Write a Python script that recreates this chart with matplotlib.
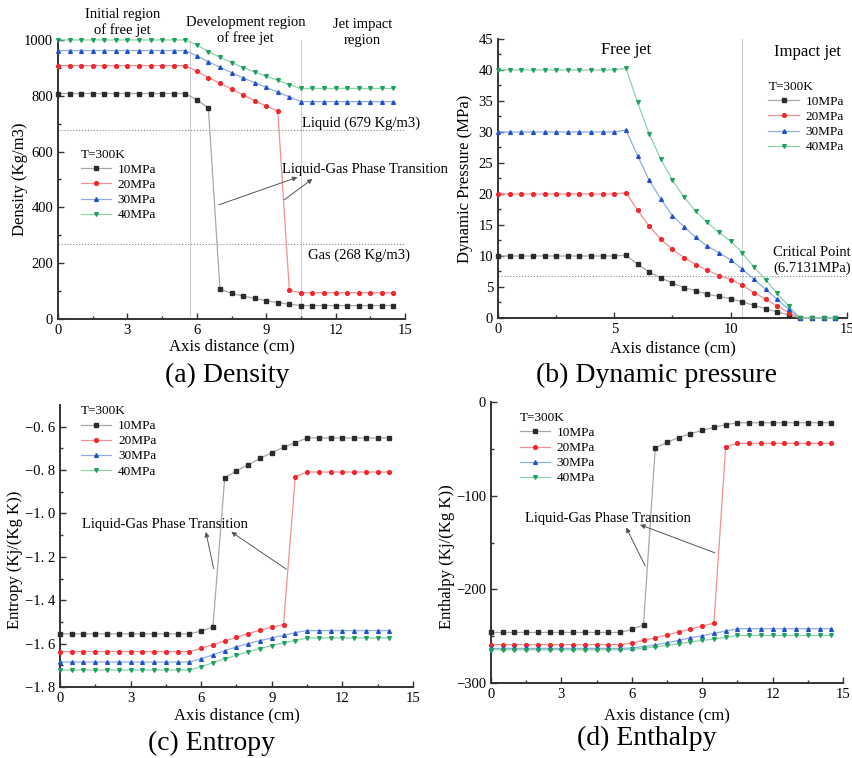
import matplotlib
matplotlib.use('Agg')
import matplotlib.pyplot as plt
import numpy as np

plt.rcParams['font.family'] = ['Liberation Serif', 'DejaVu Serif']
plt.rcParams['axes.unicode_minus'] = True

labels = ['10MPa', '20MPa', '30MPa', '40MPa']
dark = ['#2b2b2b', '#f0282d', '#2050c8', '#1fa060']
light = ['#a8a8a8', '#f39090', '#90ade3', '#8fd3ad']
marks = ['s', 'o', '^', 'v']

# axis distance (cm)
x_long = np.arange(0, 14.51, 0.5)   # density, pressure, enthalpy
x_short = np.arange(0, 14.01, 0.5)  # entropy

# (a) density (Kg/m3)
rho_10 = [808, 808, 808, 808, 808, 808, 808, 808, 808, 808, 808, 808,
          785, 757, 107, 92, 82, 74, 66, 58, 53,
          48, 48, 48, 48, 48, 48, 48, 48, 48]
rho_20 = [908, 908, 908, 908, 908, 908, 908, 908, 908, 908, 908, 908,
          888, 865, 845, 824, 803, 782, 763, 745, 103,
          94, 94, 94, 94, 94, 94, 94, 94, 94]
rho_30 = [962, 962, 962, 962, 962, 962, 962, 962, 962, 962, 962, 962,
          943, 922, 902, 883, 864, 847, 830, 813, 796,
          779, 779, 779, 779, 779, 779, 779, 779, 779]
rho_40 = [1000, 1000, 1000, 1000, 1000, 1000, 1000, 1000, 1000, 1000, 1000, 1000,
          982, 958, 938, 919, 901, 885, 870, 855, 840,
          826, 826, 826, 826, 826, 826, 826, 826, 826]

# (b) dynamic pressure (MPa)
p_10 = [10, 10, 10, 10, 10, 10, 10, 10, 10, 10, 10, 10.1,
        8.7, 7.4, 6.45, 5.65, 4.9, 4.4, 3.8, 3.5, 3.1, 2.6, 2.05, 1.5, 0.97, 0.5,
        0, 0, 0, 0]
p_20 = [20, 20, 20, 20, 20, 20, 20, 20, 20, 20, 20, 20.2,
        17.4, 14.8, 12.7, 11.05, 9.75, 8.6, 7.7, 6.85, 6.2, 5.3, 4.1, 3.05, 1.95, 0.85,
        0, 0, 0, 0]
p_30 = [30, 30, 30, 30, 30, 30, 30, 30, 30, 30, 30, 30.3,
        26.2, 22.2, 19.2, 16.5, 14.7, 13.0, 11.6, 10.5, 9.4, 7.9, 6.25, 4.65, 3.0, 1.4,
        0, 0, 0, 0]
p_40 = [40, 40, 40, 40, 40, 40, 40, 40, 40, 40, 40, 40.3,
        34.8, 29.7, 25.6, 22.2, 19.5, 17.2, 15.4, 13.8, 12.4, 10.5, 8.2, 6.2, 3.95, 1.9,
        0, 0, 0, 0]

# (c) entropy (Kj/(Kg K))
s_10 = [-1.555, -1.555, -1.555, -1.555, -1.555, -1.555, -1.555, -1.555, -1.555, -1.555, -1.555, -1.555,
        -1.543, -1.523, -0.837, -0.803, -0.776, -0.746, -0.720, -0.695, -0.674,
        -0.652, -0.652, -0.652, -0.652, -0.652, -0.652, -0.652, -0.652]
s_20 = [-1.637, -1.637, -1.637, -1.637, -1.637, -1.637, -1.637, -1.637, -1.637, -1.637, -1.637, -1.637,
        -1.622, -1.605, -1.588, -1.571, -1.554, -1.538, -1.524, -1.512, -0.831,
        -0.809, -0.809, -0.809, -0.809, -0.809, -0.809, -0.809, -0.809]
s_30 = [-1.685, -1.685, -1.685, -1.685, -1.685, -1.685, -1.685, -1.685, -1.685, -1.685, -1.685, -1.685,
        -1.670, -1.652, -1.633, -1.615, -1.600, -1.586, -1.574, -1.562, -1.549,
        -1.540, -1.540, -1.540, -1.540, -1.540, -1.540, -1.540, -1.540]
s_40 = [-1.722, -1.722, -1.722, -1.722, -1.722, -1.722, -1.722, -1.722, -1.722, -1.722, -1.722, -1.722,
        -1.707, -1.688, -1.670, -1.654, -1.638, -1.623, -1.609, -1.597, -1.586,
        -1.574, -1.574, -1.574, -1.574, -1.574, -1.574, -1.574, -1.574]
s_ticks = [-1.8, -1.6, -1.4, -1.2, -1.0, -0.8, -0.6]
s_ticklabels = ['\u22121. 8', '\u22121. 6', '\u22121. 4', '\u22121. 2', '\u22121. 0', '\u22120. 8', '\u22120. 6']

# (d) enthalpy (Kj/(Kg K))
h_10 = [-246, -246, -246, -246, -246, -246, -246, -246, -246, -246, -246, -246,
        -242.8, -237.8, -49, -43, -38, -33.8, -30.3, -27.1, -24.2,
        -22.1, -22.1, -22.1, -22.1, -22.1, -22.1, -22.1, -22.1, -22.1]
h_20 = [-259, -259, -259, -259, -259, -259, -259, -259, -259, -259, -259, -259,
        -257.3, -254.5, -251.6, -248.7, -245.5, -242.3, -239.1, -236, -48,
        -44.2, -44.2, -44.2, -44.2, -44.2, -44.2, -44.2, -44.2, -44.2]
h_30 = [-263, -263, -263, -263, -263, -263, -263, -263, -263, -263, -263, -263,
        -262.6, -261.2, -259.4, -257, -254.5, -251.6, -249.5, -247, -244.5,
        -242, -242, -242, -242, -242, -242, -242, -242, -242]
h_40 = [-264.5, -264.5, -264.5, -264.5, -264.5, -264.5, -264.5, -264.5, -264.5, -264.5, -264.5, -264.5,
        -264, -263, -261.5, -259.8, -258, -256.2, -254.5, -253, -251.3,
        -249.2, -249.2, -249.2, -249.2, -249.2, -249.2, -249.2, -249.2, -249.2]


def style_axes(ax):
    for side in ['top', 'right']:
        ax.spines[side].set_visible(False)
    for side in ['left', 'bottom']:
        ax.spines[side].set_linewidth(1.4)
        ax.spines[side].set_color('#333333')
    ax.tick_params(which='both', direction='in', labelsize=10.5, width=1.0, color='#333333')
    ax.tick_params(which='major', length=4)
    ax.tick_params(which='minor', length=2.2)


def draw_series(ax, xx, series):
    for i, yy in enumerate(series):
        ax.plot(xx, yy, color=light[i], lw=0.9, marker=marks[i], ms=2.7,
                mfc=dark[i], mec=dark[i], label=labels[i], clip_on=False, zorder=3)


def add_legend(ax, pos):
    ax.legend(title='T=300K', loc='upper left', bbox_to_anchor=pos, frameon=False,
              fontsize=9.5, title_fontsize=9.5, alignment='left', handlelength=2.3,
              handletextpad=0.5, labelspacing=0.22, borderpad=0, borderaxespad=0)


fig = plt.figure(figsize=(8.53, 7.58), dpi=100)

ax_a = fig.add_axes([0.068, 0.5792, 0.4068, 0.3681])
ax_b = fig.add_axes([0.5838, 0.5805, 0.4091, 0.3681])
ax_c = fig.add_axes([0.0703, 0.0937, 0.4138, 0.372])
ax_d = fig.add_axes([0.5756, 0.0989, 0.4127, 0.3707])

arrow_kw = dict(arrowstyle='-|>', color='#555555', lw=0.7, mutation_scale=7,
                shrinkA=0, shrinkB=0)

###############
## (a) density
###############
ax = ax_a
style_axes(ax)
ax.axvline(5.7, color='#d0d0d0', lw=0.8, zorder=1)
ax.axvline(10.5, color='#d0d0d0', lw=0.8, zorder=1)
ax.axhline(679, color='#888888', lw=0.8, ls=':', zorder=1)
ax.axhline(268, color='#888888', lw=0.8, ls=':', zorder=1)
draw_series(ax, x_long, [rho_10, rho_20, rho_30, rho_40])
ax.set_xlim(0, 15)
ax.set_ylim(0, 1000)
ax.set_xticks([0, 3, 6, 9, 12, 15])
ax.set_xticks(np.arange(1.5, 15, 3), minor=True)
ax.set_yticks([0, 200, 400, 600, 800, 1000])
ax.set_yticks(np.arange(100, 1000, 200), minor=True)
ax.set_xlabel('Axis distance (cm)', fontsize=12)
ax.xaxis.set_label_coords(0.5, -0.097)
ax.xaxis.label.set_va('center')
ax.set_ylabel('Density (Kg/m3)', fontsize=12)
ax.yaxis.set_label_coords(-0.11, 0.5)
ax.yaxis.label.set_va('center')
ax.text(2.8, 1063, 'Initial region\nof free jet', ha='center', va='center', fontsize=10.5, linespacing=1.25)
ax.text(8.1, 1034, 'Development region\nof free jet', ha='center', va='center', fontsize=10.5, linespacing=1.25)
ax.text(13.15, 1027, 'Jet impact\nregion', ha='center', va='center', fontsize=10.5, linespacing=1.25)
ax.text(13.1, 702, 'Liquid (679 Kg/m3)', ha='center', va='center', fontsize=10.5)
ax.text(13.0, 229, 'Gas (268 Kg/m3)', ha='center', va='center', fontsize=10.5)
ax.text(9.7, 536, 'Liquid-Gas Phase Transition', ha='left', va='center', fontsize=10.5)
ax.annotate('', xy=(10.35, 508), xytext=(6.95, 409), arrowprops=arrow_kw)
ax.annotate('', xy=(11.0, 502), xytext=(9.78, 427), arrowprops=arrow_kw)
add_legend(ax, (0.065, 0.61))

########################
## (b) dynamic pressure
########################
ax = ax_b
style_axes(ax)
ax.axvline(10.5, color='#d0d0d0', lw=0.8, zorder=1)
ax.axhline(6.7131, color='#888888', lw=0.8, ls=':', zorder=1)
draw_series(ax, x_long, [p_10, p_20, p_30, p_40])
ax.set_xlim(0, 15)
ax.set_ylim(0, 45)
ax.set_xticks([0, 5, 10, 15])
ax.set_xticks([2.5, 7.5, 12.5], minor=True)
ax.set_yticks(np.arange(0, 46, 5))
ax.set_yticks(np.arange(2.5, 45, 5), minor=True)
ax.set_xlabel('Axis distance (cm)', fontsize=12)
ax.xaxis.set_label_coords(0.5, -0.109)
ax.xaxis.label.set_va('center')
ax.set_ylabel('Dynamic Pressure (MPa)', fontsize=12)
ax.yaxis.set_label_coords(-0.094, 0.5)
ax.yaxis.label.set_va('center')
ax.text(5.5, 43.2, 'Free jet', ha='center', va='center', fontsize=12)
ax.text(13.3, 42.9, 'Impact jet', ha='center', va='center', fontsize=12)
ax.text(11.83, 9.25, 'Critical Point\n(6.7131MPa)', ha='left', va='center', fontsize=10.5, linespacing=1.3)
add_legend(ax, (0.775, 0.85))

###############
## (c) entropy
###############
ax = ax_c
style_axes(ax)
draw_series(ax, x_short, [s_10, s_20, s_30, s_40])
ax.set_xlim(0, 15)
ax.set_ylim(-1.8, -0.5)
ax.set_xticks([0, 3, 6, 9, 12, 15])
ax.set_xticks(np.arange(1.5, 15, 3), minor=True)
ax.set_yticks(s_ticks)
ax.set_yticklabels(s_ticklabels)
ax.set_yticks(np.arange(-1.7, -0.55, 0.2), minor=True)
ax.set_xlabel('Axis distance (cm)', fontsize=12)
ax.xaxis.set_label_coords(0.5, -0.099)
ax.xaxis.label.set_va('center')
ax.set_ylabel('Entropy (Kj/(Kg K))', fontsize=12)
ax.yaxis.set_label_coords(-0.127, 0.45)
ax.yaxis.label.set_va('center')
ax.text(0.92, -1.05, 'Liquid-Gas Phase Transition', ha='left', va='center', fontsize=10.5)
ax.annotate('', xy=(6.2, -1.085), xytext=(6.53, -1.254), arrowprops=arrow_kw)
ax.annotate('', xy=(7.28, -1.085), xytext=(9.62, -1.257), arrowprops=arrow_kw)
add_legend(ax, (0.06, 1.0))

################
## (d) enthalpy
################
ax = ax_d
style_axes(ax)
draw_series(ax, x_long, [h_10, h_20, h_30, h_40])
ax.set_xlim(0, 15)
ax.set_ylim(-300, 0)
ax.set_xticks([0, 3, 6, 9, 12, 15])
ax.set_xticks(np.arange(1.5, 15, 3), minor=True)
ax.set_yticks([-300, -200, -100, 0])
ax.set_yticks([-250, -150, -50], minor=True)
ax.set_xlabel('Axis distance (cm)', fontsize=12)
ax.xaxis.set_label_coords(0.5, -0.116)
ax.xaxis.label.set_va('center')
ax.set_ylabel('Enthalpy (Kj/(Kg K))', fontsize=12)
ax.yaxis.set_label_coords(-0.125, 0.45)
ax.yaxis.label.set_va('center')
ax.text(1.43, -124, 'Liquid-Gas Phase Transition', ha='left', va='center', fontsize=10.5)
ax.annotate('', xy=(5.76, -134), xytext=(6.57, -175), arrowprops=arrow_kw)
ax.annotate('', xy=(6.35, -131), xytext=(9.54, -161), arrowprops=arrow_kw)
add_legend(ax, (0.082, 0.965))

# sub-figure captions
fig.text(0.266, 0.5053, '(a) Density', ha='center', va='center', fontsize=20)
fig.text(0.770, 0.5053, '(b) Dynamic pressure', ha='center', va='center', fontsize=20)
fig.text(0.2485, 0.0198, '(c) Entropy', ha='center', va='center', fontsize=20)
fig.text(0.7585, 0.0264, '(d) Enthalpy', ha='center', va='center', fontsize=20)

fig.savefig('out.png', dpi=100)
